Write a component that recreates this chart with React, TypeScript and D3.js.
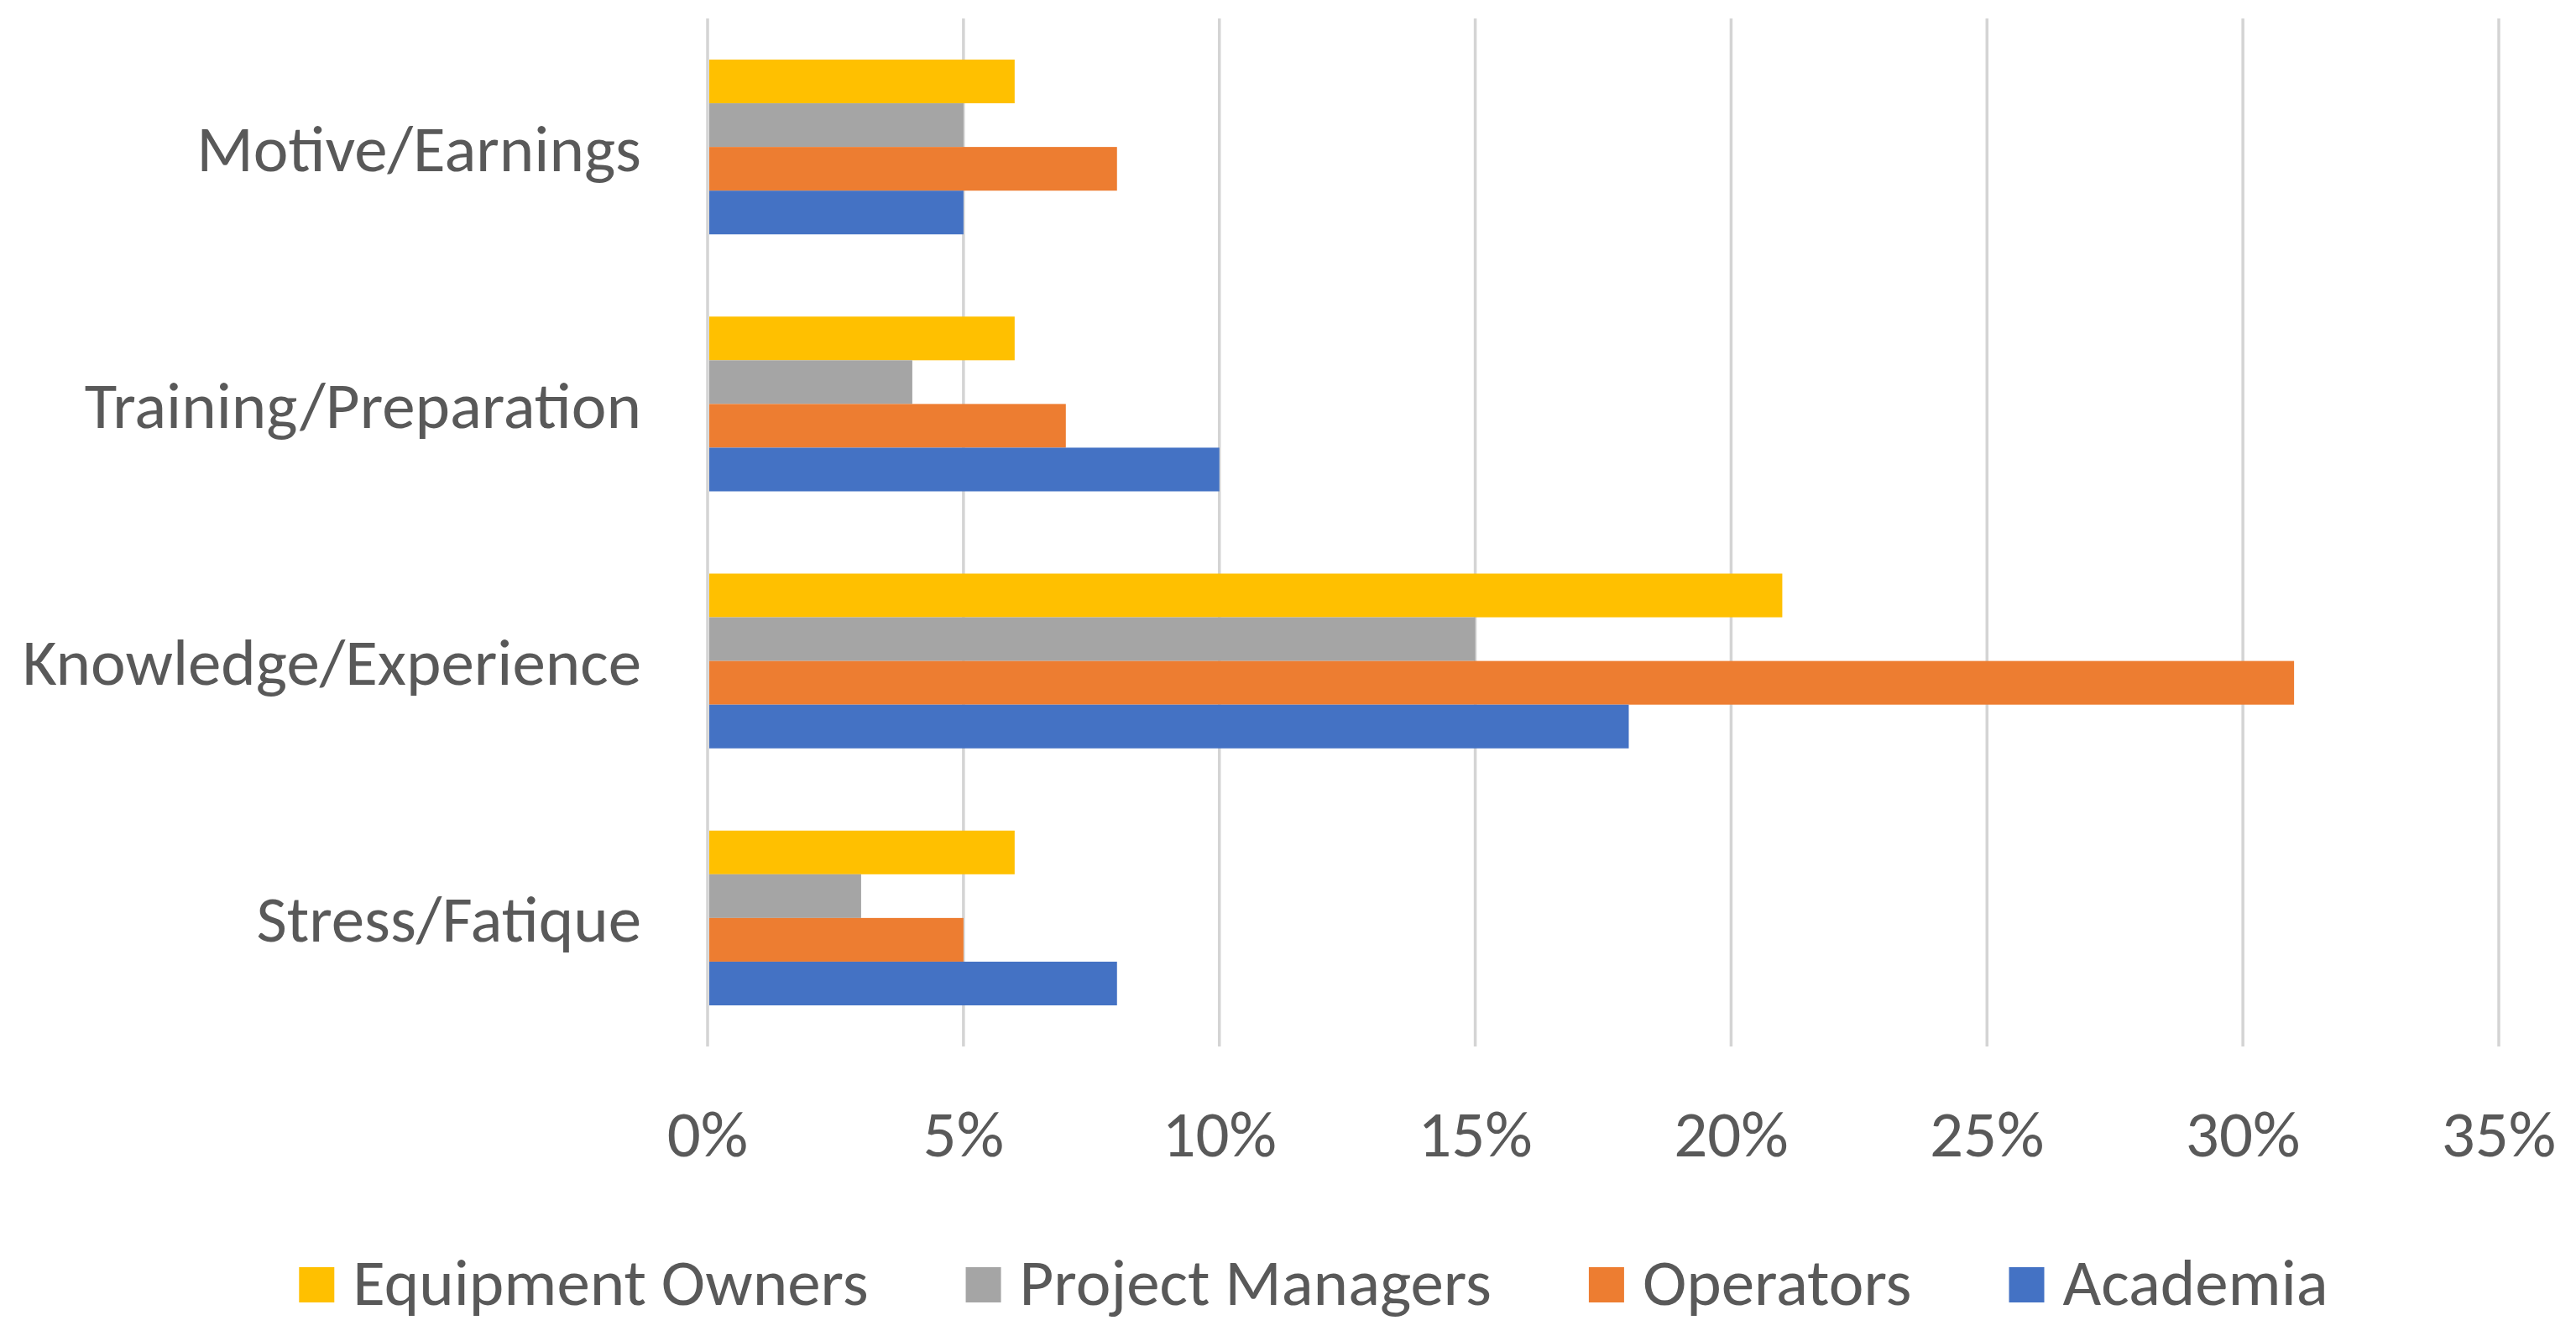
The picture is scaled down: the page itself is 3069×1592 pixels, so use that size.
import { useEffect, useRef } from "react";
import * as d3 from "d3";

const categories = ["Motive/Earnings", "Training/Preparation", "Knowledge/Experience", "Stress/Fatique"];
const seriesNames = ["Equipment Owners", "Project Managers", "Operators", "Academia"];
const seriesColors = ["#FFC000", "#A5A5A5", "#ED7D31", "#4472C4"];
const equipmentOwners = [6, 6, 21, 6];
const projectManagers = [5, 4, 15, 3];
const operators = [8, 7, 31, 5];
const academia = [5, 10, 18, 8];
const xTicks = [0, 5, 10, 15, 20, 25, 30, 35];

const W = 3069;
const H = 1592;
const FONT = "Carlito, Calibri, Lato, sans-serif";
const FONT_SIZE = 79;
const TEXT = "#595959";

export default function App() {
  const svgRef = useRef<SVGSVGElement | null>(null);

  useEffect(() => {
    const svgEl = svgRef.current;
    if (!svgEl) return;
    const svg = d3.select(svgEl);
    svg.selectAll("*").remove();

    const values = [equipmentOwners, projectManagers, operators, academia];
    const rows = categories.flatMap((cat, ci) =>
      seriesNames.map((s, si) => ({ cat, series: s, value: values[si][ci], color: seriesColors[si] }))
    );

    const x = d3.scaleLinear().domain([0, 35]).range([843, 2977]);
    const y0 = d3.scaleBand<string>().domain(categories).range([22, 1247]).paddingInner(0.32).paddingOuter(0.16);
    const y1 = d3.scaleBand<string>().domain(seriesNames).range([0, y0.bandwidth()]);

    // gridlines
    svg
      .append("g")
      .selectAll("line")
      .data(xTicks)
      .join("line")
      .attr("x1", (d) => x(d))
      .attr("x2", (d) => x(d))
      .attr("y1", 22)
      .attr("y2", 1247)
      .attr("stroke", "#D4D4D4")
      .attr("stroke-width", 3.5);

    // bars
    svg
      .append("g")
      .selectAll("rect")
      .data(rows)
      .join("rect")
      .attr("x", x(0) + 2)
      .attr("y", (d) => (y0(d.cat) ?? 0) + (y1(d.series) ?? 0))
      .attr("width", (d) => x(d.value) - x(0) - 2)
      .attr("height", y1.bandwidth())
      .attr("fill", (d) => d.color);

    // category labels
    svg
      .append("g")
      .selectAll("text")
      .data(categories)
      .join("text")
      .attr("x", 764)
      .attr("y", (d) => (y0(d) ?? 0) + y0.bandwidth() / 2)
      .attr("dy", "0.36em")
      .attr("text-anchor", "end")
      .attr("font-family", FONT)
      .attr("font-size", FONT_SIZE)
      .attr("fill", TEXT)
      .text((d) => d);

    // x tick labels
    svg
      .append("g")
      .selectAll("text")
      .data(xTicks)
      .join("text")
      .attr("x", (d) => x(d))
      .attr("y", 1378)
      .attr("text-anchor", "middle")
      .attr("font-family", FONT)
      .attr("font-size", FONT_SIZE)
      .attr("fill", TEXT)
      .text((d) => `${d}%`);

    // legend
    const legend = svg.append("g");
    const items = legend
      .selectAll("g")
      .data(seriesNames)
      .join("g");
    items
      .append("rect")
      .attr("width", 42)
      .attr("height", 42)
      .attr("y", 1510)
      .attr("fill", (_, i) => seriesColors[i]);
    const labels = items
      .append("text")
      .attr("x", 64)
      .attr("y", 1555)
      .attr("font-family", FONT)
      .attr("font-size", FONT_SIZE)
      .attr("fill", TEXT)
      .text((d) => d);
    const widths = labels.nodes().map((n) => (n as SVGTextElement).getComputedTextLength());
    const itemW = widths.map((w) => 64 + w);
    const gap = 116;
    const total = d3.sum(itemW) + gap * (itemW.length - 1);
    let cursor = 1565 - total / 2;
    items.attr("transform", (_, i) => {
      const t = `translate(${cursor},0)`;
      cursor += itemW[i] + gap;
      return t;
    });
  }, []);

  return (
    <svg
      ref={svgRef}
      width={W}
      height={H}
      viewBox={`0 0 ${W} ${H}`}
      style={{ position: "absolute", left: 0, top: 0, background: "#fff" }}
    />
  );
}
